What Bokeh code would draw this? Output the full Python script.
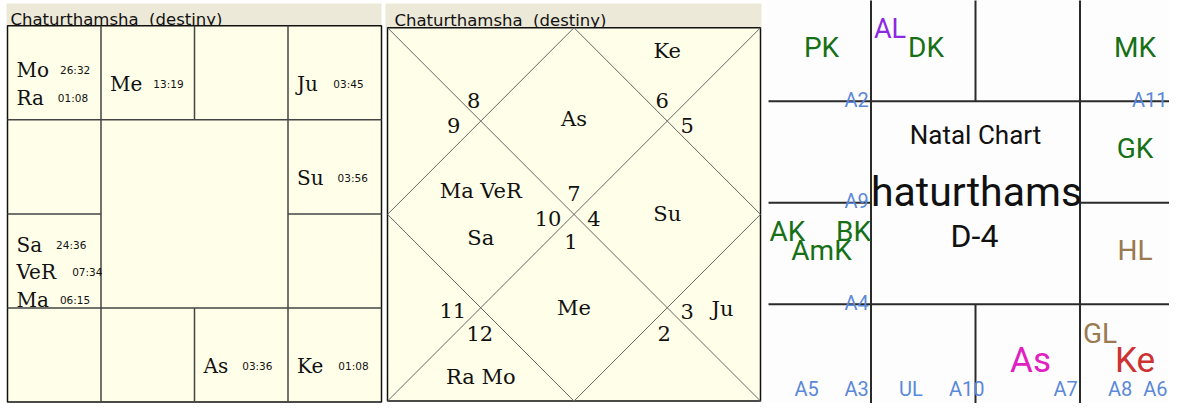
from bokeh.plotting import figure
from bokeh.models import Range1d
from bokeh.core.properties import value
from bokeh.embed import file_html
from bokeh.resources import INLINE

# ---------------- data ----------------
TITLE = "Chaturthamsha  (destiny)"

# Panel 1: South-Indian square chart (planet, degree, sign)
p1_planets = ["Mo", "Ra", "Me", "Ju", "Su", "Sa", "VeR", "Ma", "As", "Ke"]
p1_degrees = ["26:32", "01:08", "13:19", "03:45", "03:56", "24:36", "07:34", "06:15", "03:36", "01:08"]
p1_signs = [12, 12, 1, 3, 4, 10, 10, 10, 7, 6]

# Panel 2: North-Indian diamond chart
lagna_sign = 7
p2_planets = ["Ke", "As", "Ma", "VeR", "Sa", "Su", "Me", "Ju", "Ra", "Mo"]
p2_signs = [6, 7, 10, 10, 10, 4, 1, 3, 12, 12]
p2_rows = [0, 0, 0, 0, 1, 0, 0, 0, 0, 0]

# Panel 3: special points chart
p3_labels = ["PK", "AL", "DK", "MK", "GK", "AK", "AmK", "BK", "HL", "GL", "Ke", "As"]
p3_signs = [12, 1, 1, 3, 4, 10, 10, 10, 5, 6, 6, 7]
p3_kinds = ["karaka", "arudha_lagna", "karaka", "karaka", "karaka", "karaka", "karaka",
            "karaka", "special_lagna", "special_lagna", "Ke", "As"]
p3_slots = ["c", "tl", "c", "c", "c", "tl", "c", "tr", "c", "tl", "c", "c"]
arudha_labels = ["A2", "A11", "A9", "A4", "A5", "A3", "UL", "A10", "A7", "A8", "A6"]
arudha_signs = [12, 3, 11, 10, 9, 9, 8, 8, 7, 6, 6]
center_titles = ["Natal Chart", "haturthams", "D-4"]

# ---------------- styles ----------------
SERIF = value("DejaVu Serif")
SANS = value("DejaVu Sans")
NARROW = value("Roboto")
CREAM = "#fffee8"
BAR = "#ece9d8"
KIND_COLOR = {"karaka": "#167016", "arudha_lagna": "#8a2be2", "special_lagna": "#9a7a50",
              "Ke": "#cc3333", "As": "#e020c0"}
KIND_SIZE = {"karaka": 28, "arudha_lagna": 27, "special_lagna": 28, "Ke": 35, "As": 35}
SIGN_CELL = {12: (0, 0), 1: (0, 1), 2: (0, 2), 3: (0, 3), 4: (1, 3), 5: (2, 3),
             6: (3, 3), 7: (3, 2), 8: (3, 1), 9: (3, 0), 10: (2, 0), 11: (1, 0)}
SERIF_W = {"M": .873, "o": .602, "R": .770, "a": .596, "e": .592, "J": .472, "u": .644,
           "S": .685, "V": .722, "A": .722, "s": .514, "K": .775}
ROBOTO_W = {"A": .652, "U": .647, "L": .538}

XMAX, YMAX = 1169, 414.5
p = figure(width=1169, height=403, x_range=Range1d(0, XMAX), y_range=Range1d(YMAX, 0),
           output_backend="svg", toolbar_location=None, x_axis_type=None, y_axis_type=None,
           min_border=0, outline_line_color=None)
p.grid.visible = False
p.background_fill_color = "white"
p.border_fill_color = "white"


def grid_lines(x0, y0, cw, ch, x_start=None, x_end=None, y_start=None, y_end=None):
    xs = [x0 + i * cw for i in range(5)]
    ys = [y0 + i * ch for i in range(5)]
    xa = xs[0] if x_start is None else x_start
    xb = xs[4] if x_end is None else x_end
    ya = ys[0] if y_start is None else y_start
    yb = ys[4] if y_end is None else y_end
    seg = []
    for xi in (xs[1], xs[3]):
        seg.append((xi, ya, xi, yb))
    seg.append((xs[2], ya, xs[2], ys[1]))
    seg.append((xs[2], ys[3], xs[2], yb))
    for yi in (ys[1], ys[3]):
        seg.append((xa, yi, xb, yi))
    seg.append((xa, ys[2], xs[1], ys[2]))
    seg.append((xs[3], ys[2], xb, ys[2]))
    return xs, ys, seg


title_shown = TITLE.replace("  ", " \u00a0")

# ================= Panel 1 =================
L1, R1, T1, B1 = 7, 381, 26, 413
p.quad(left=[6], right=[381], top=[3], bottom=[26], fill_color=BAR, line_color=None)
p.text(x=[10], y=[20], text=[title_shown], text_font=SANS, text_font_size="16.5px",
       text_color="#111111", text_baseline="alphabetic")
p.quad(left=[L1], right=[R1], top=[T1], bottom=[B1], fill_color=CREAM, line_color="#111111", line_width=1.5)
cw1, ch1 = (R1 - L1) / 4, (B1 - T1) / 4
xs1, ys1, seg1 = grid_lines(L1, T1, cw1, ch1)
p.segment(x0=[s[0] for s in seg1], y0=[s[1] for s in seg1], x1=[s[2] for s in seg1],
          y1=[s[3] for s in seg1], line_color="#444444", line_width=1.5)

cell_items = {}
for i, sg in enumerate(p1_signs):
    cell_items.setdefault(sg, []).append(i)
nx, ny, nt, dx, dt = [], [], [], [], []
for sg, idxs in cell_items.items():
    r, c = SIGN_CELL[sg]
    n = len(idxs)
    for k, i in enumerate(idxs):
        x = xs1[c] + 9
        y = ys1[r] + 60 + (k - (n - 1) / 2) * 28.5
        nx.append(x); ny.append(y); nt.append(p1_planets[i])
        w = sum(SERIF_W.get(ch, .6) for ch in p1_planets[i]) * 20
        dx.append(x + w + 14); dt.append(p1_degrees[i])
p.text(x=nx, y=ny, text=nt, text_font=SERIF, text_font_size="20px", text_color="#111111",
       text_baseline="alphabetic")
p.text(x=dx, y=ny, text=dt, text_font=SANS, text_font_size="10.5px", text_color="#111111",
       text_baseline="alphabetic")

# ================= Panel 2 =================
L2, R2, T2, B2 = 387, 760, 28, 412
p.quad(left=[385], right=[761], top=[3], bottom=[T2], fill_color=BAR, line_color=None)
p.text(x=[394], y=[21], text=[title_shown], text_font=SANS, text_font_size="16.5px",
       text_color="#111111", text_baseline="alphabetic")
p.quad(left=[L2], right=[R2], top=[T2], bottom=[B2], fill_color=CREAM, line_color="#111111", line_width=1.5)
W, H = R2 - L2, B2 - T2
cx, cy = L2 + W / 2, T2 + H / 2
p.segment(x0=[L2, L2, cx, L2, cx, R2], y0=[T2, B2, T2, cy, B2, cy],
          x1=[R2, R2, L2, cx, R2, cx], y1=[B2, T2, cy, B2, cy, T2],
          line_color="#666666", line_width=1)

P1 = (L2 + W / 4, T2 + H / 4)
P2 = (L2 + 3 * W / 4, T2 + H / 4)
P3 = (L2 + W / 4, T2 + 3 * H / 4)
P4 = (L2 + 3 * W / 4, T2 + 3 * H / 4)
C = (cx, cy)
num_ref = {1: (C, 0, -21), 2: (P1, -7, -21), 3: (P1, -27, 5), 4: (C, -26, 4),
           5: (P3, -28, 3), 6: (P3, -1, 27), 7: (C, -3, 28), 8: (P4, -3, 27),
           9: (P4, 20, 4), 10: (C, 20, 4), 11: (P2, 20, 5), 12: (P2, -5, -21)}
hx, hy, ht = [], [], []
for h in range(1, 13):
    ref, ox, oy = num_ref[h]
    hx.append(ref[0] + ox); hy.append(ref[1] + oy)
    ht.append(str((lagna_sign + h - 2) % 12 + 1))
p.text(x=hx, y=hy, text=ht, text_font=SERIF, text_font_size="21px", text_color="#111111",
       text_align="center", text_baseline="middle")

house_anchor = {1: (cx, T2 + H / 4 - 2), 2: (P1[0], T2 + 24), 3: (L2 + 36, P1[1]),
                4: (P1[0], cy), 5: (L2 + 36, P3[1]), 6: (P3[0], B2 - 25),
                7: (cx, P3[1]), 8: (P4[0], B2 - 25), 9: (R2 - 38, P4[1] + 1),
                10: (P2[0], cy), 11: (R2 - 38, P2[1]), 12: (P2[0], T2 + 24)}
lines = {}
for i, sg in enumerate(p2_signs):
    h = (sg - lagna_sign) % 12 + 1
    lines.setdefault((h, p2_rows[i]), []).append(p2_planets[i])
px2, py2, pt2 = [], [], []
for (h, row), names in lines.items():
    nrows = len({r for (hh, r) in lines if hh == h})
    ax, ay = house_anchor[h]
    off = 0 if nrows == 1 else (-24 if row == 0 else 24)
    px2.append(ax); py2.append(ay + off); pt2.append(" ".join(names))
p.text(x=px2, y=py2, text=pt2, text_font=SERIF, text_font_size="21px", text_color="#111111",
       text_align="center", text_baseline="middle")

# ================= Panel 3 =================
L3, T3, CW3 = 766, -1, 104.5
p.quad(left=[L3], right=[XMAX + 2], top=[T3], bottom=[413], fill_color="#fdfdfd", line_color=None)
xs3, ys3, seg3 = grid_lines(L3, T3, CW3, CW3, x_start=768, x_end=XMAX + 2, y_end=YMAX + 2)
p.segment(x0=[s[0] for s in seg3], y0=[s[1] for s in seg3], x1=[s[2] for s in seg3],
          y1=[s[3] for s in seg3], line_color="#2a2a2a", line_width=2)

for kind in set(p3_kinds):
    tx, ty, tt, ta = [], [], [], []
    for lab, sg, kd, sl in zip(p3_labels, p3_signs, p3_kinds, p3_slots):
        if kd != kind:
            continue
        r, c = SIGN_CELL[sg]
        cl, ct = xs3[c], ys3[r]
        if sl == "c":
            tx.append(cl + 55); ty.append(ct + (58 if KIND_SIZE[kd] > 32 else 49)); ta.append("center")
        elif sl == "tl":
            tx.append(cl + 3); ty.append(ct + 30); ta.append("left")
        else:
            tx.append(cl + CW3); ty.append(ct + 30); ta.append("right")
        tt.append(lab)
    p.text(x=tx, y=ty, text=tt, text_align=ta, text_font=NARROW,
           text_font_size=f"{KIND_SIZE[kind]}px", text_color=KIND_COLOR[kind],
           text_baseline="alphabetic")

ax3, ay3, at3 = [], [], []
cell_ar = {}
for lab, sg in zip(arudha_labels, arudha_signs):
    cell_ar.setdefault(sg, []).append(lab)
for sg, labs in cell_ar.items():
    r, c = SIGN_CELL[sg]
    for k, lab in enumerate(reversed(labs)):
        w = sum(ROBOTO_W.get(ch, .562) for ch in lab) * 20
        ax3.append(min(xs3[c] + 78 - 50 * k, XMAX - 2 - w))
        ay3.append(min(ys3[r + 1] - 1.5, 400))
        at3.append(lab)
p.text(x=ax3, y=ay3, text=at3, text_font=NARROW, text_font_size="20px",
       text_color="#5b88d8", text_baseline="alphabetic")

mid = (xs3[1] + xs3[3]) / 2
p.text(x=[mid, mid + 1, mid - 1], y=[138, 197, 242], text=center_titles, text_font=NARROW,
       text_font_size=["26px", "41px", "32px"], text_color="#111111", text_align="center",
       text_baseline="alphabetic")

open("out.html", "w").write(file_html(p, INLINE))
